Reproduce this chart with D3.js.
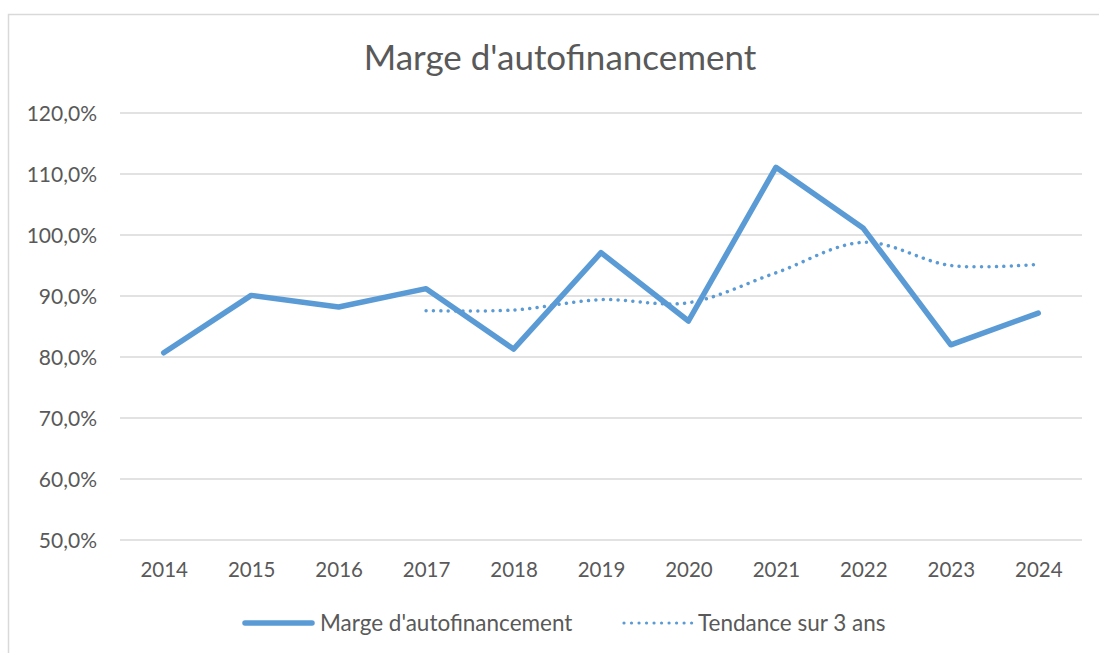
<!DOCTYPE html>
<html>
<head>
<meta charset="utf-8">
<script src="https://cdn.jsdelivr.net/npm/d3@7"></script>
<style>
  html, body { margin: 0; padding: 0; background: #fff; }
  svg { display: block; }
  text { font-family: Lato, "Open Sans", sans-serif; fill: #595959; }
</style>
</head>
<body>
<svg id="chart" width="1099" height="653"></svg>
<script>
const title = "Marge d'autofinancement";
const years = ["2014","2015","2016","2017","2018","2019","2020","2021","2022","2023","2024"];
const marge = [0.807, 0.901, 0.882, 0.912, 0.813, 0.971, 0.859, 1.111, 1.011, 0.820, 0.872];
const trendYears = ["2017","2018","2019","2020","2021","2022","2023","2024"];
const tendance = [0.876, 0.877, 0.894, 0.889, 0.938, 0.988, 0.950, 0.952];
const yTicks = [0.5, 0.6, 0.7, 0.8, 0.9, 1.0, 1.1, 1.2];
const seriesNames = ["Marge d'autofinancement", "Tendance sur 3 ans"];

const color = "#5B9BD5";
const svg = d3.select("#chart");

// chart border
svg.append("rect").attr("x", 8.5).attr("y", 14.5).attr("width", 1110).attr("height", 660)
  .attr("fill", "none").attr("stroke", "#D9D9D9").attr("stroke-width", 1.5);

const x = d3.scalePoint().domain(years).range([120, 1082]).padding(0.5);
const y = d3.scaleLinear().domain([0.5, 1.2]).range([540, 113]);

// gridlines
svg.append("g").selectAll("line").data(yTicks).join("line")
  .attr("x1", 120).attr("x2", 1082)
  .attr("y1", d => y(d)).attr("y2", d => y(d))
  .attr("stroke", "#D9D9D9").attr("stroke-width", 1.5);

const fmt = d => d3.format(".1f")(d * 100).replace(".", ",") + "%";

// y axis
const yAxis = d3.axisLeft(y).tickValues(yTicks).tickFormat(fmt).tickSize(0).tickPadding(0);
const gy = svg.append("g").attr("transform", "translate(97,0)").call(yAxis);
gy.select(".domain").remove();
gy.selectAll("text").attr("font-size", 21).attr("fill", "#595959")
  .attr("font-family", "Lato, sans-serif").attr("dy", "0.35em");

// x axis
const xAxis = d3.axisBottom(x).tickSize(0).tickPadding(0);
const gx = svg.append("g").attr("transform", "translate(0,562)").call(xAxis);
gx.select(".domain").remove();
gx.selectAll("text").attr("font-size", 20.5).attr("fill", "#595959")
  .attr("font-family", "Lato, sans-serif").attr("dy", "0.71em");

// lines
const lineMain = d3.line().x((d, i) => x(years[i])).y(d => y(d));
svg.append("path").datum(marge).attr("d", lineMain)
  .attr("fill", "none").attr("stroke", color).attr("stroke-width", 5.5)
  .attr("stroke-linejoin", "round").attr("stroke-linecap", "round");

const lineTrend = d3.line().x((d, i) => x(trendYears[i])).y(d => y(d)).curve(d3.curveCatmullRom.alpha(0));
svg.append("path").datum(tendance).attr("d", lineTrend)
  .attr("fill", "none").attr("stroke", color).attr("stroke-width", 3.5)
  .attr("stroke-dasharray", "0.01 7.4").attr("stroke-linecap", "round");

// title
svg.append("text").attr("x", 560).attr("y", 70).attr("text-anchor", "middle")
  .attr("font-size", 35).text(title);

// legend
const lg = svg.append("g");
lg.append("line").attr("x1", 245).attr("x2", 312).attr("y1", 623).attr("y2", 623)
  .attr("stroke", color).attr("stroke-width", 5.5).attr("stroke-linecap", "round");
lg.append("text").attr("x", 320).attr("y", 631).attr("font-size", 22.5).text(seriesNames[0]);
lg.append("line").attr("x1", 624).attr("x2", 692).attr("y1", 623).attr("y2", 623)
  .attr("stroke", color).attr("stroke-width", 3.2).attr("stroke-linecap", "round")
  .attr("stroke-dasharray", "0.01 7.5");
lg.append("text").attr("x", 698).attr("y", 631).attr("font-size", 22.5).text(seriesNames[1]);
</script>
</body>
</html>
